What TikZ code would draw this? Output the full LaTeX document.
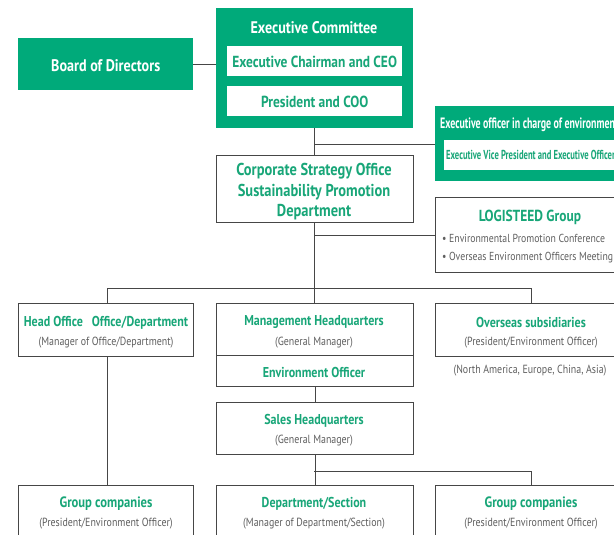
\documentclass[tikz,border=0pt]{standalone}
\usepackage{fontspec}
\setmainfont{PT Sans}[FakeStretch=0.84]
\newfontfamily\narrowfont{PT Sans}[FakeStretch=0.66]
\definecolor{grn}{RGB}{0,170,122}
\definecolor{txtg}{RGB}{24,166,120}
\definecolor{gtxt}{RGB}{95,95,95}
\definecolor{bord}{RGB}{70,70,70}
\tikzset{
  gbox/.style={fill=grn, draw=none, anchor=north west, inner sep=0pt},
  wbox/.style={fill=white, draw=bord, line width=0.8pt, anchor=north west, inner sep=0pt},
  ibox/.style={fill=white, draw=none, anchor=north west, inner sep=0pt},
  ttl/.style={font=\bfseries\fontsize{14.3}{16}\selectfont, text=txtg, inner sep=0pt, yshift=-1.5pt},
  bigttl/.style={font=\bfseries\fontsize{16}{18}\selectfont, text=txtg, inner sep=0pt, yshift=-1pt},
  wttl/.style={font=\bfseries\fontsize{16.8}{18}\selectfont, text=white, inner sep=0pt, yshift=-1pt},
  sub/.style={font=\fontsize{11.8}{13}\selectfont, text=gtxt, inner sep=0pt, yshift=-1.5pt},
  conn/.style={draw=bord, line width=0.8pt},
}
\begin{document}
\begin{tikzpicture}[x=1pt,y=-1pt]
\useasboundingbox (0,0) rectangle (614,535);
\clip (0,0) rectangle (614,535);

% Board of Directors
\node[gbox, minimum width=175pt, minimum height=52pt] (bod) at (18,38) {};
\node[wttl] (bodt) at (bod.center) {Board of Directors};

% Executive Committee
\node[gbox, minimum width=197pt, minimum height=120pt] (ec) at (216,8) {};
\node[wttl] (ect) at (314,27) {Executive Committee};
\node[ibox, minimum width=175pt, minimum height=30pt] (ceo) at (227,46) {};
\node[bigttl] (ceot) at (ceo.center) {Executive Chairman and CEO};
\node[ibox, minimum width=175pt, minimum height=30pt] (coo) at (227,86) {};
\node[bigttl] (coot) at (coo.center) {President and COO};

% Executive officer in charge of environment
\node[gbox, minimum width=200pt, minimum height=75pt] (eo) at (435,106) {};
\node[font=\bfseries\narrowfont\fontsize{15}{17}\selectfont, text=white, anchor=west, inner sep=0pt] (eot) at (440,125) {Executive officer in charge of environment};
\node[ibox, minimum width=190pt, minimum height=30pt] (evp) at (444,140) {};
\node[font=\bfseries\narrowfont\fontsize{13}{15}\selectfont, text=txtg, anchor=west, inner sep=0pt] (evpt) at (446,155) {Executive Vice President and Executive Officer};

% Corporate Strategy Office
\node[wbox, minimum width=197pt, minimum height=67pt] (cso) at (216,155) {};
\node[ttl, font=\bfseries\fontsize{17.2}{20.5}\selectfont, align=center] (csot) at (314,190.5) {Corporate Strategy Office\\Sustainability Promotion\\Department};

% LOGISTEED Group
\node[wbox, minimum width=200pt, minimum height=75pt] (lg) at (435,197) {};
\node[bigttl] (lgt) at (530,216) {LOGISTEED Group};
\node[sub, font=\fontsize{11.6}{13}\selectfont, anchor=west] (lg1) at (442,237) {{\textbullet} Environmental Promotion Conference};
\node[sub, font=\fontsize{11.6}{13}\selectfont, anchor=west] (lg2) at (442,256) {{\textbullet} Overseas Environment Officers Meeting};

% Second row
\node[wbox, minimum width=175pt, minimum height=53pt] (ho) at (18,303) {};
\node[ttl] (hot) at (106,321) {Head Office\hspace{9pt}Office/Department};
\node[sub] (hos) at (106,341) {(Manager of Office/Department)};

\node[wbox, minimum width=197pt, minimum height=52pt] (mhq) at (216,303) {};
\node[ttl] (mhqt) at (314,321) {Management Headquarters};
\node[sub] (mhqs) at (314,341) {(General Manager)};
\node[wbox, minimum width=197pt, minimum height=31pt] (env) at (216,355) {};
\node[ttl] (envt) at (314,371) {Environment Officer};

\node[wbox, minimum width=192pt, minimum height=53pt] (os) at (435,303) {};
\node[ttl] (ost) at (531,321) {Overseas subsidiaries};
\node[sub] (oss) at (531,341) {(President/Environment Officer)};
\node[sub] (osr) at (530,369) {(North America, Europe, China, Asia)};

% Sales HQ
\node[wbox, minimum width=197pt, minimum height=52pt] (shq) at (216,402) {};
\node[ttl] (shqt) at (314,419) {Sales Headquarters};
\node[sub] (shqs) at (314,439) {(General Manager)};

% Bottom row
\node[wbox, minimum width=175pt, minimum height=60pt] (gc1) at (18,485) {};
\node[ttl, font=\bfseries\fontsize{15}{17}\selectfont] (gc1t) at (106,502) {Group companies};
\node[sub] (gc1s) at (106,522) {(President/Environment Officer)};
\node[wbox, minimum width=197pt, minimum height=60pt] (ds) at (216,485) {};
\node[ttl] (dst) at (314,502) {Department/Section};
\node[sub] (dss) at (314,522) {(Manager of Department/Section)};
\node[wbox, minimum width=192pt, minimum height=60pt] (gc2) at (435,485) {};
\node[ttl, font=\bfseries\fontsize{15}{17}\selectfont] (gc2t) at (531,502) {Group companies};
\node[sub] (gc2s) at (531,522) {(President/Environment Officer)};

% Connectors
\coordinate (j1) at (314,144);
\coordinate (j2) at (314,235);
\coordinate (j4) at (314,471);
\draw[conn] (bod.east) -- (bod.east -| ec.west);
\draw[conn] (ec.south -| j1) -- (cso.north -| j1);
\draw[conn] (j1) -- (j1 -| eo.west);
\draw[conn] (cso.south -| j1) -- (mhq.north -| j1);
\draw[conn] (j2) -- (j2 -| lg.west);
\draw[conn] (ho.north -| 107,0) -- (107,288) -- (531,288) -- (os.north -| 531,0);
\draw[conn] (ho.south -| 107,0) -- (gc1.north -| 107,0);
\draw[conn] (env.south) -- (shq.north);
\draw[conn] (shq.south) -- (ds.north);
\draw[conn] (j4) -- (531,471) -- (gc2.north -| 531,0);
\end{tikzpicture}
\end{document}
